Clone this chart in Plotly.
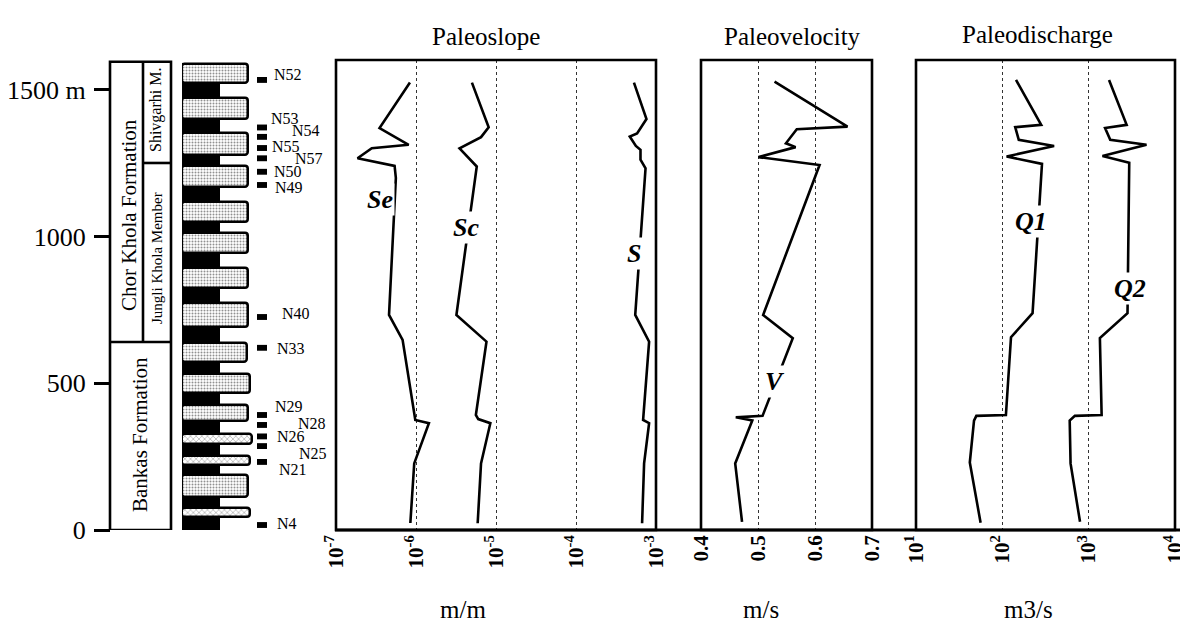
import plotly.graph_objects as go

# the page body adds an 8 px margin: the figure fills the rest of the 1188x624 window
OFF = 8
W, H = 1188 - OFF, 624 - OFF
def fx(p):
    return (p - OFF) / W
def fy(p):
    return 1 - (p - OFF) / H

SERIF = "Liberation Serif, Times New Roman, serif"

# ---------------- data ----------------
# Paleoslope (m/m) vs stratigraphic height (m)
depth_se = [1525, 1370, 1313, 1301, 1267, 1241, 1200, 733, 648, 375, 364, 227, 24]
slope_se = [8.4e-7, 3.5e-7, 8.1e-7, 2.8e-7, 1.86e-7, 5.4e-7, 5.6e-7, 4.6e-7, 6.8e-7, 9.8e-7, 1.45e-6, 9.5e-7, 8.5e-7]

depth_sc = [1525, 1373, 1339, 1301, 1239, 733, 642, 392, 378, 364, 227, 23]
slope_sc = [5.0e-6, 8.1e-6, 6.5e-6, 3.5e-6, 5.75e-6, 3.2e-6, 7.6e-6, 5.6e-6, 6.0e-6, 8.5e-6, 6.5e-6, 5.9e-6]

depth_s = [1525, 1401, 1352, 1341, 1309, 1296, 1262, 1233, 733, 642, 375, 364, 227, 23]
slope_s = [5.3e-4, 7.6e-4, 5.8e-4, 4.7e-4, 5.6e-4, 6.4e-4, 6.4e-4, 7.4e-4, 5.5e-4, 8.2e-4, 6.9e-4, 8.2e-4, 7.1e-4, 6.7e-4]

# Paleovelocity (m/s)
depth_v = [1528, 1375, 1366, 1318, 1305, 1271, 1244, 733, 654, 389, 384, 373, 227, 28]
vel_v = [0.529, 0.657, 0.568, 0.549, 0.566, 0.501, 0.608, 0.509, 0.561, 0.508, 0.461, 0.490, 0.460, 0.472]

# Paleodischarge (m3/s)
depth_q1 = [1534, 1381, 1373, 1330, 1309, 1273, 1248, 739, 657, 392, 389, 373, 230, 25]
q1 = [144, 282, 141, 155, 398, 112, 288, 224, 126, 110, 50, 47, 42, 56]

depth_q2 = [1534, 1381, 1370, 1330, 1313, 1275, 1252, 739, 654, 392, 389, 373, 227, 28]
q2 = [1722, 2754, 1549, 1778, 4677, 1445, 2951, 2818, 1349, 1413, 692, 603, 617, 794]

# Lithologic column: sandstone beds (base, top in m) and relative length
bed_base = [1524, 1401, 1279, 1169, 1050, 944, 825, 692, 573, 467, 372, 293, 222, 113, 44]
bed_top = [1589, 1473, 1354, 1241, 1118, 1013, 893, 774, 638, 532, 426, 327, 252, 188, 75]
bed_len = [66, 66, 66, 66, 66, 66, 66, 66, 65, 68, 66, 70, 68, 66, 68]
bed_fine = [False] * 11 + [True, True, False, True]

# Sample positions (m)
sample_names = ["N52", "N53", "N54", "N55", "N57", "N50", "N49", "N40", "N33",
                "N29", "N28", "N26", "N25", "N21", "N4"]
sample_depth = [1534, 1372, 1340, 1302, 1267, 1221, 1176, 726, 621,
                392, 358, 319, 286, 232, 17]

# Formation boundaries (m)
top_section = 1596
bankas_top = 641
shivgarhi_base = 1251

y_ticks = [0, 500, 1000, 1500]
y_ticktext = ["0", "500", "1000", "1500 m"]

slope_ticks = [1e-7, 1e-6, 1e-5, 1e-4, 1e-3]
slope_ticktext = ["<b>10<sup>-7</sup></b>", "<b>10<sup>-6</sup></b>", "<b>10<sup>-5</sup></b>",
                  "<b>10<sup>-4</sup></b>", "<b>10<sup>-3</sup></b>"]
vel_ticks = [0.4, 0.5, 0.6, 0.7]
vel_ticktext = ["<b>0.4</b>", "<b>0.5</b>", "<b>0.6</b>", "<b>0.7</b>"]
q_ticks = [10, 100, 1000, 10000]
q_ticktext = ["<b>10<sup>1</sup></b>", "<b>10<sup>2</sup></b>", "<b>10<sup>3</sup></b>",
              "<b>10<sup>4</sup></b>"]

# ---------------- figure ----------------
fig = go.Figure()
LW = 2.6
line_style = dict(color="black", width=LW)

fig.add_trace(go.Scatter(x=slope_se, y=depth_se, mode="lines", line=line_style, xaxis="x", yaxis="y"))
fig.add_trace(go.Scatter(x=slope_sc, y=depth_sc, mode="lines", line=line_style, xaxis="x", yaxis="y"))
fig.add_trace(go.Scatter(x=slope_s, y=depth_s, mode="lines", line=line_style, xaxis="x", yaxis="y"))
fig.add_trace(go.Scatter(x=vel_v, y=depth_v, mode="lines", line=line_style, xaxis="x2", yaxis="y"))
fig.add_trace(go.Scatter(x=q1, y=depth_q1, mode="lines", line=line_style, xaxis="x3", yaxis="y"))
fig.add_trace(go.Scatter(x=q2, y=depth_q2, mode="lines", line=line_style, xaxis="x3", yaxis="y"))

centers = [(b + t) / 2 for b, t in zip(bed_base, bed_top)]
thick = [t - b for b, t in zip(bed_base, bed_top)]
for fine in (False, True):
    idx = [i for i in range(len(centers)) if bed_fine[i] == fine]
    fig.add_trace(go.Bar(
        orientation="h",
        y=[centers[i] for i in idx], x=[bed_len[i] for i in idx],
        width=[thick[i] for i in idx], base=0,
        xaxis="x4", yaxis="y",
        marker=dict(color="white", line=dict(color="black", width=2.5), cornerradius=3,
                    pattern=dict(shape="." if not fine else "x", fgcolor="#222", bgcolor="white",
                                 size=3 if not fine else 4, solidity=0.35 if not fine else 0.25)),
    ))

axis_common = dict(anchor="y", showline=False, zeroline=False, ticks="",
                   showgrid=True, griddash="dot", gridcolor="#333", gridwidth=1,
                   tickangle=-90, tickfont=dict(family=SERIF, size=21, color="black"),
                   fixedrange=True, automargin=False)

fig.update_layout(
    width=W, height=H,
    margin=dict(l=0, r=0, t=0, b=0, pad=0),
    paper_bgcolor="white", plot_bgcolor="rgba(0,0,0,0)",
    showlegend=False,
    yaxis=dict(domain=[fy(530), fy(60)], range=[0, 1602], anchor="free", position=fx(110),
               tickvals=y_ticks, ticktext=y_ticktext, ticks="outside", ticklen=16,
               tickwidth=3, tickcolor="black", showgrid=False, zeroline=False, showline=False,
               tickfont=dict(family=SERIF, size=26, color="black"), ticklabelstandoff=3,
               automargin=False),
    xaxis=dict(domain=[fx(336), fx(656)], type="log", range=[-7, -3],
               tickvals=slope_ticks, ticktext=slope_ticktext, **axis_common),
    xaxis2=dict(domain=[fx(701), fx(872)], range=[0.4, 0.7],
                tickvals=vel_ticks, ticktext=vel_ticktext, **axis_common),
    xaxis3=dict(domain=[fx(916), fx(1175)], type="log", range=[1, 4],
                tickvals=q_ticks, ticktext=q_ticktext, **axis_common),
    xaxis4=dict(domain=[fx(182), fx(256)], range=[0, 74], anchor="y", visible=False,
                automargin=False),
    bargap=0,
)

shapes = []
# panel frames
for xr in ("x domain", "x2 domain", "x3 domain"):
    shapes.append(dict(type="rect", xref=xr, yref="y domain", x0=0, x1=1, y0=0, y1=1,
                       line=dict(color="black", width=LW)))
# common base line
shapes.append(dict(type="line", xref="paper", yref="paper", x0=fx(335), x1=fx(1180),
                   y0=fy(530), y1=fy(530), line=dict(color="black", width=3)))
# black mudstone column
shapes.append(dict(type="rect", xref="paper", yref="y", x0=fx(182), x1=fx(220),
                   y0=-6, y1=bed_base[0] + 20, fillcolor="black", line=dict(width=0),
                   layer="below"))
shapes.append(dict(type="line", xref="paper", yref="y", x0=fx(220), x1=fx(252),
                   y0=-4, y1=-4, line=dict(color="black", width=2)))
# formation box
box = dict(color="black", width=2.6)
shapes.append(dict(type="rect", xref="paper", yref="y", x0=fx(110), x1=fx(171),
                   y0=0, y1=top_section, line=box))
shapes.append(dict(type="line", xref="paper", yref="y", x0=fx(110), x1=fx(171),
                   y0=bankas_top, y1=bankas_top, line=box))
shapes.append(dict(type="line", xref="paper", yref="y", x0=fx(143), x1=fx(143),
                   y0=bankas_top, y1=top_section, line=box))
shapes.append(dict(type="line", xref="paper", yref="y", x0=fx(143), x1=fx(171),
                   y0=shivgarhi_base, y1=shivgarhi_base, line=box))
# sample markers
for d in sample_depth:
    shapes.append(dict(type="rect", xref="paper", yref="y", x0=fx(257), x1=fx(267),
                       y0=d - 10, y1=d + 10, fillcolor="black", line=dict(width=0)))
fig.update_layout(shapes=shapes)

ann = []
def text(x, y, s, size, yref="paper", **kw):
    d = dict(x=x, y=y, xref="paper", yref=yref, text=s, showarrow=False,
             xanchor="center", yanchor="middle",
             font=dict(family=SERIF, size=size, color="black"))
    d.update(kw)
    ann.append(d)

# titles
text(fx(486), fy(37), "Paleoslope", 25)
text(fx(792), fy(37), "Paleovelocity", 25)
text(fx(1037), fy(35), "Paleodischarge", 25)
# units
text(fx(463), fy(609), "m/m", 25)
text(fx(761), fy(609), "m/s", 25)
text(fx(1028), fy(609), "m3/s", 25)
# formation names
text(fx(129), fy(215), "Chor Khola Formation", 21, textangle=-90)
text(fx(140), fy(435), "Bankas Formation", 21, textangle=-90)
text(fx(156), fy(110), "Shivgarhi M.", 16, textangle=-90)
text(fx(157), fy(258), "Jungli Khola Member", 15, textangle=-90)

# sample labels
label_x = [272, 269, 290, 270, 293, 272, 273, 280, 275, 273, 296, 275, 297, 277, 275]
label_dy = [5, 9, 6, 2, 0, 0, -3, 4, -1, 8, 1, 0, -7, -8, 2]
for n, d, lx, dy in zip(sample_names, sample_depth, label_x, label_dy):
    text(fx(lx), d, n, 16, yref="y", xanchor="left", yshift=dy)

# curve labels
def curve_label(xref, x, y, s):
    ann.append(dict(x=x, y=y, xref=xref, yref="y", text="<b><i>" + s + "</i></b>",
                    showarrow=False, bgcolor="white", borderpad=1,
                    xanchor="center", yanchor="middle",
                    font=dict(family=SERIF, size=26, color="black")))

curve_label("x", -6.45, 1125, "Se")
curve_label("x", -5.375, 1030, "Sc")
curve_label("x", -3.275, 944, "S")
curve_label("x2", 0.529, 505, "V")
curve_label("x3", 2.33, 1051, "Q1")
curve_label("x3", 3.48, 822, "Q2")

fig.update_layout(annotations=ann)

fig.write_html("out.html")
